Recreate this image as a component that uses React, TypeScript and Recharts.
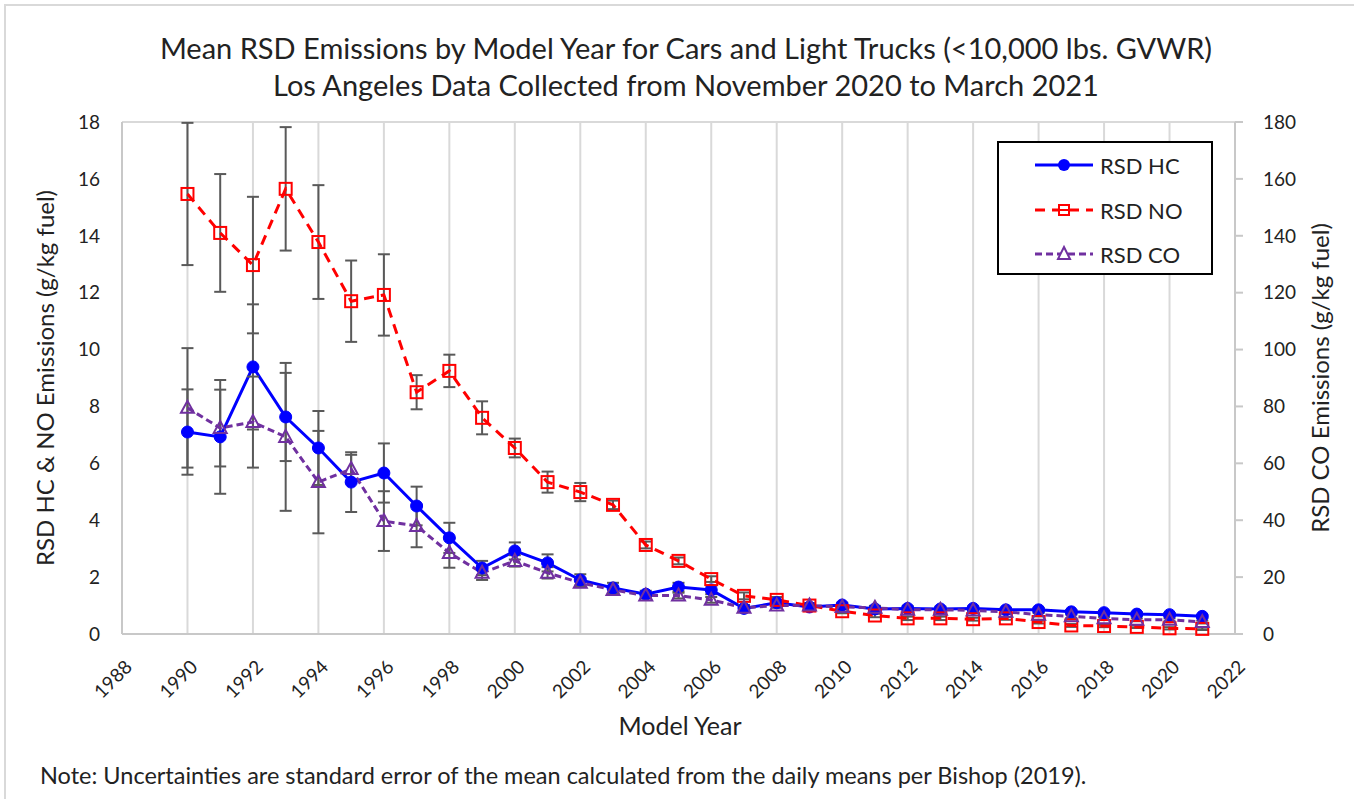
import { ComposedChart, Line, XAxis, YAxis, CartesianGrid, ErrorBar, Label } from "recharts";

const years = [1990, 1991, 1992, 1993, 1994, 1995, 1996, 1997, 1998, 1999, 2000, 2001, 2002, 2003, 2004, 2005, 2006, 2007, 2008, 2009, 2010, 2011, 2012, 2013, 2014, 2015, 2016, 2017, 2018, 2019, 2020, 2021];

const hcValues = [7.1, 6.93, 9.39, 7.63, 6.54, 5.34, 5.66, 4.5, 3.38, 2.32, 2.92, 2.5, 1.9, 1.62, 1.4, 1.65, 1.55, 0.9, 1.1, 0.95, 1.02, 0.88, 0.9, 0.88, 0.9, 0.85, 0.85, 0.78, 0.75, 0.7, 0.68, 0.62];
const hcErrors = [1.5, 2.0, 2.2, 1.55, 1.3, 1.05, 1.04, 0.68, 0.53, 0.25, 0.3, 0.3, 0.2, 0.18, 0.12, 0.15, 0.15, 0.12, 0.1, 0.08, 0.08, 0.08, 0.08, 0.08, 0.07, 0.07, 0.07, 0.06, 0.06, 0.06, 0.06, 0.05];

const noValues = [15.47, 14.1, 12.97, 15.65, 13.78, 11.7, 11.92, 8.5, 9.25, 7.6, 6.54, 5.34, 4.99, 4.54, 3.13, 2.57, 1.93, 1.34, 1.2, 1.0, 0.8, 0.65, 0.55, 0.55, 0.52, 0.55, 0.42, 0.3, 0.28, 0.25, 0.2, 0.18];
const noErrors = [2.5, 2.07, 2.4, 2.17, 2.0, 1.43, 1.43, 0.6, 0.57, 0.58, 0.33, 0.37, 0.32, 0.15, 0.12, 0.12, 0.1, 0.12, 0.1, 0.08, 0.07, 0.06, 0.06, 0.06, 0.05, 0.05, 0.05, 0.05, 0.04, 0.04, 0.04, 0.04];

const coValues = [79.5, 72.4, 74.5, 69.3, 53.4, 58, 39.7, 38, 28.5, 21.5, 25.7, 21.5, 18, 15.5, 13.5, 13.5, 12, 9.2, 10, 10, 9.5, 9.2, 8.5, 8.5, 8.3, 7.8, 6.8, 6.2, 5.5, 5, 5, 4.2];
const coErrors = [21, 13.5, 16, 26, 18, 5, 10.5, 7.5, 5.2, 2.5, 2, 2, 1.5, 1.2, 1, 1, 1, 1, 0.8, 0.8, 0.8, 0.7, 0.7, 0.7, 0.6, 0.6, 0.6, 0.6, 0.5, 0.5, 0.5, 0.5];

const yearTicks = [1988, 1990, 1992, 1994, 1996, 1998, 2000, 2002, 2004, 2006, 2008, 2010, 2012, 2014, 2016, 2018, 2020, 2022];
const leftTicks = [0, 2, 4, 6, 8, 10, 12, 14, 16, 18];
const rightTicks = [0, 20, 40, 60, 80, 100, 120, 140, 160, 180];

const data = years.map((year, i) => ({
  year,
  hc: hcValues[i],
  hcErr: hcErrors[i],
  no: noValues[i],
  noErr: noErrors[i],
  co: coValues[i],
  coErr: coErrors[i],
}));

const FONT = "Lato, 'Open Sans', sans-serif";
const TEXT = "#222";

const renderYearTick = ({ x = 0, y = 0, payload }: any) => (
  <g transform={`translate(${x + 7},${y + 22})`}>
    <text x={0} y={0} dy={6} textAnchor="end" transform="rotate(-45)" fill={TEXT} fontSize={19} fontFamily={FONT}>
      {payload?.value}
    </text>
  </g>
);

const renderSquare = (props: any) => {
  const { cx, cy, index } = props;
  return <rect key={`sq-${index}`} x={cx - 6} y={cy - 6} width={12} height={12} fill="none" stroke="#FF0000" strokeWidth={2} />;
};

const renderTriangle = (props: any) => {
  const { cx, cy, index } = props;
  return <path key={`tr-${index}`} d={`M${cx},${cy - 7} L${cx + 6.5},${cy + 5} L${cx - 6.5},${cy + 5} Z`} fill="none" stroke="#7030A0" strokeWidth={2} />;
};

const legendRows = [
  { name: "RSD HC", color: "#0000FF", dash: undefined, marker: "circle", y: 22 },
  { name: "RSD NO", color: "#FF0000", dash: "10 7", marker: "square", y: 67 },
  { name: "RSD CO", color: "#7030A0", dash: "7 4", marker: "triangle", y: 111 },
];

function ChartLegend() {
  return (
    <div style={{ position: "absolute", left: 997, top: 141, width: 216, height: 134, border: "2px solid #000", background: "#fff", boxSizing: "border-box" }}>
      {legendRows.map((r) => (
        <div key={r.name} style={{ position: "absolute", left: 0, top: r.y - 14, height: 28, display: "flex", alignItems: "center" }}>
          <svg width={64} height={20} style={{ marginLeft: 34 }}>
            <line x1={2} y1={10} x2={60} y2={10} stroke={r.color} strokeWidth={3} strokeDasharray={r.dash} />
            {r.marker === "circle" && <circle cx={31} cy={10} r={6} fill={r.color} />}
            {r.marker === "square" && <rect x={26} y={5} width={10} height={10} fill="#fff" stroke={r.color} strokeWidth={2} />}
            {r.marker === "square" && <line x1={26} y1={10} x2={36} y2={10} stroke={r.color} strokeWidth={2} />}
            {r.marker === "triangle" && <path d="M31,3 L37,15 L25,15 Z" fill="#fff" stroke={r.color} strokeWidth={2} />}
          </svg>
          <span style={{ marginLeft: 3, fontFamily: FONT, fontSize: 22, color: TEXT, whiteSpace: "nowrap" }}>{r.name}</span>
        </div>
      ))}
    </div>
  );
}

export default function App() {
  return (
    <div style={{ position: "absolute", left: 0, top: 0, width: 1354, height: 799, background: "#fff", overflow: "hidden", fontFamily: FONT }}>
      <div style={{ position: "absolute", left: 4, top: 4, width: 1360, height: 800, borderLeft: "2px solid #d9d9d9", borderTop: "2px solid #d9d9d9" }} />
      <div style={{ position: "absolute", left: 0, top: 29, width: 1372, textAlign: "center", fontSize: 29, lineHeight: "37px", color: TEXT, whiteSpace: "nowrap" }}>
        Mean RSD Emissions by Model Year for Cars and Light Trucks (&lt;10,000 lbs. GVWR)
        <br />
        Los Angeles Data Collected from November 2020 to March 2021
      </div>
      <div style={{ position: "absolute", left: 0, top: 0 }}>
        <ComposedChart width={1354} height={799} data={data} margin={{ top: 122, right: 49, left: 62, bottom: 105 }}>
          <CartesianGrid stroke="#d9d9d9" strokeWidth={2} />
          <XAxis
            dataKey="year"
            type="number"
            domain={[1988, 2022]}
            ticks={yearTicks}
            interval={0}
            tick={renderYearTick}
            tickLine={false}
            axisLine={{ stroke: "#c8c8c8", strokeWidth: 2 }}
            height={60}
          />
          <YAxis
            yAxisId="left"
            domain={[0, 18]}
            ticks={leftTicks}
            interval={0}
            width={60}
            tickLine={false}
            axisLine={{ stroke: "#c8c8c8", strokeWidth: 2 }}
            tick={{ fill: TEXT, fontSize: 19, fontFamily: FONT }}
            tickMargin={16}
          >
            <Label value="RSD HC & NO Emissions (g/kg fuel)" angle={-90} position="insideLeft" offset={-17} style={{ textAnchor: "middle" }} fill={TEXT} fontSize={24} fontFamily={FONT} />
          </YAxis>
          <YAxis
            yAxisId="right"
            orientation="right"
            domain={[0, 180]}
            ticks={rightTicks}
            interval={0}
            width={70}
            tickSize={8}
            tickLine={{ stroke: "#c8c8c8", strokeWidth: 2 }}
            axisLine={{ stroke: "#c8c8c8", strokeWidth: 2 }}
            tick={{ fill: TEXT, fontSize: 19, fontFamily: FONT }}
            tickMargin={20}
          >
            <Label value="RSD CO Emissions (g/kg fuel)" angle={-90} position="insideRight" offset={-15} style={{ textAnchor: "middle" }} fill={TEXT} fontSize={24} fontFamily={FONT} />
          </YAxis>
          <Line yAxisId="left" dataKey="hc" stroke="#0000FF" strokeWidth={3} dot={{ r: 6, fill: "#0000FF", stroke: "#0000FF", strokeWidth: 1 }} isAnimationActive={false}>
            <ErrorBar dataKey="hcErr" direction="y" width={6} stroke="#595959" strokeWidth={2} />
          </Line>
          <Line yAxisId="left" dataKey="no" stroke="#FF0000" strokeWidth={3} strokeDasharray="10 7" dot={renderSquare} isAnimationActive={false}>
            <ErrorBar dataKey="noErr" direction="y" width={6} stroke="#595959" strokeWidth={2} />
          </Line>
          <Line yAxisId="right" dataKey="co" stroke="#7030A0" strokeWidth={3} strokeDasharray="7 4" dot={renderTriangle} isAnimationActive={false}>
            <ErrorBar dataKey="coErr" direction="y" width={6} stroke="#595959" strokeWidth={2} />
          </Line>
        </ComposedChart>
      </div>
      <ChartLegend />
      <div style={{ position: "absolute", left: 0, top: 710, width: 1360, textAlign: "center", fontSize: 25, color: TEXT }}>Model Year</div>
      <div style={{ position: "absolute", left: 40, top: 761, fontSize: 23.5, color: TEXT, whiteSpace: "nowrap" }}>
        Note: Uncertainties are standard error of the mean calculated from the daily means per Bishop (2019).
      </div>
    </div>
  );
}
